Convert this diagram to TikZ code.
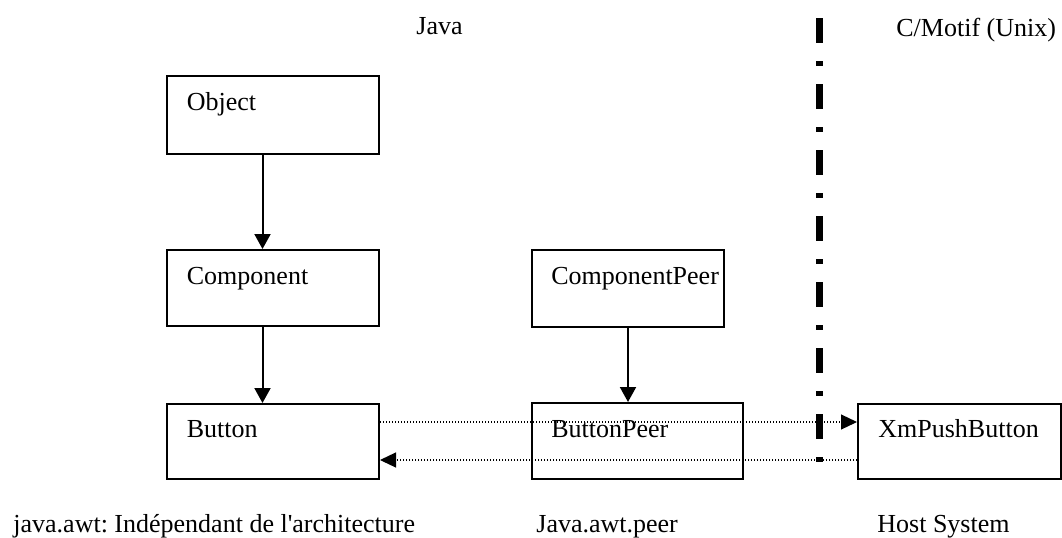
\documentclass[tikz,border=0pt]{standalone}
\usepackage{fontspec}
\setmainfont{Liberation Serif}
\usetikzlibrary{arrows.meta}
\frenchspacing
\tikzset{cls/.style={rectangle,draw,line width=1pt,inner sep=0pt,anchor=north west}}
\tikzset{txt/.style={inner sep=0pt,anchor=base west,font=\fontsize{13pt}{15pt}\selectfont}}
\tikzset{link/.style={line width=1pt,-{Triangle[length=7.5pt,width=8pt]}}}
\tikzset{peerlink/.style={line width=0.6pt,dash pattern=on 0.6pt off 0.9pt,-{Triangle[length=8pt,width=7.5pt]}}}
\tikzset{divider/.style={line width=3.5pt,dash pattern=on 12.5pt off 9pt on 2.5pt off 9pt}}

\begin{document}
\begin{tikzpicture}[x=0.5pt,y=-0.5pt]
  \useasboundingbox (0,0) rectangle (1062,537);
  % classes
  \node[cls,minimum width=106pt,minimum height=39pt] (obj) at (166,75) {};
  \node[cls,minimum width=106pt,minimum height=38pt] (comp) at (166,249) {};
  \node[cls,minimum width=106pt,minimum height=37.5pt] (btn) at (166,403) {};
  \node[cls,minimum width=96pt,minimum height=38.5pt] (cpeer) at (531,249) {};
  \node[cls,minimum width=105.5pt,minimum height=38pt] (bpeer) at (531,402) {};
  \node[cls,minimum width=101.5pt,minimum height=37.5pt] (xm) at (857,403) {};
  \node[txt] (objt) at ([shift={(20.5,35)}]obj.north west) {Object};
  \node[txt] (compt) at ([shift={(20.5,35)}]comp.north west) {Component};
  \node[txt] (btnt) at ([shift={(20.5,34)}]btn.north west) {Button};
  \node[txt] (cpeert) at ([shift={(20,35)}]cpeer.north west) {ComponentPeer};
  \node[txt] (bpeert) at ([shift={(20,35)}]bpeer.north west) {ButtonPeer};
  \node[txt] (xmt) at ([shift={(21,34)}]xm.north west) {XmPushButton};
  % inheritance
  \draw[link] ([shift={(-10.5,0)}]obj.south) -- ([shift={(-10.5,0)}]comp.north);
  \draw[link] ([shift={(-10.5,0)}]comp.south) -- ([shift={(-10.5,0)}]btn.north);
  \draw[link] (cpeer.south) -- (cpeer.south |- bpeer.north);
  % peer calls
  \draw[peerlink] ([shift={(0,19)}]btn.north east) -- ([shift={(0,19)}]xm.north west);
  \draw[peerlink] ([shift={(0,57)}]xm.north west) -- ([shift={(0,57)}]btn.north east);
  % boundary
  \coordinate (septop) at (819.5,18);
  \coordinate (sepbot) at (819.5,463);
  \draw[divider] (septop) -- (sepbot);
  \node[txt] (java) at (416,34) {Java};
  \node[txt] (motif) at (896,36) {C/Motif (Unix)};
  \node[txt] (awt) at (13,532) {java.awt: Indépendant de l\textquotesingle architecture};
  \node[txt] (peer) at (536,532) {Java.awt.peer};
  \node[txt] (host) at (877,532) {Host System};
\end{tikzpicture}
\end{document}
